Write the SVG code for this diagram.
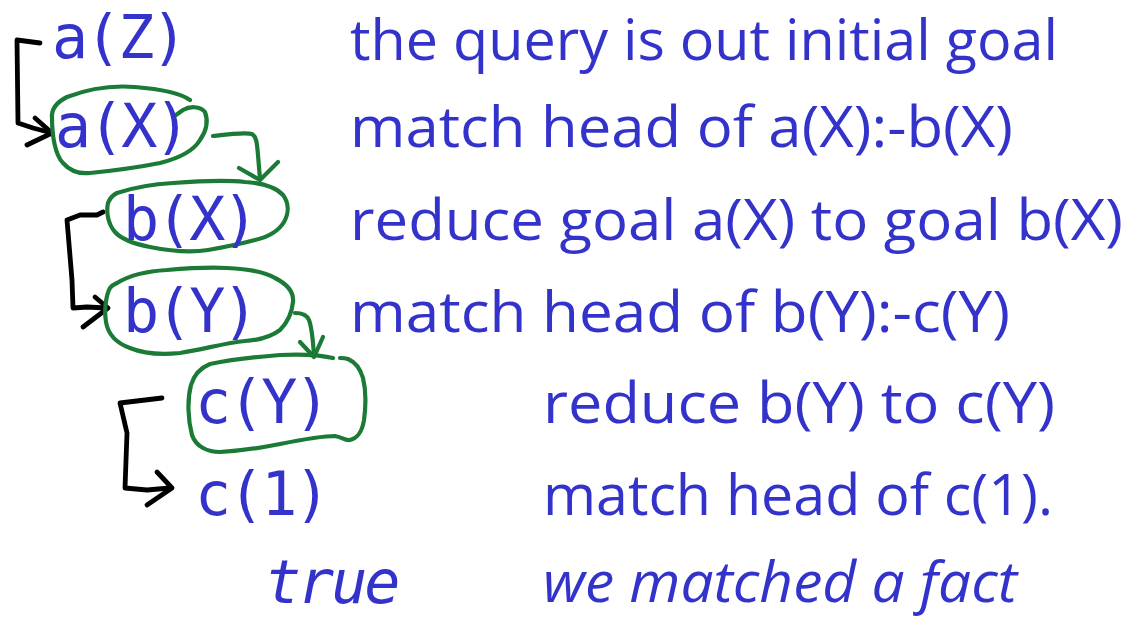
<svg xmlns="http://www.w3.org/2000/svg" width="1137" height="619" viewBox="0 0 1137 619">
<style>
.code{font-family:"DejaVu Sans Mono","Liberation Mono",monospace;font-size:60px;letter-spacing:-3px;fill:#3333cc}
.it{font-style:italic}
.desc{font-family:"Open Sans","Noto Sans","Liberation Sans",sans-serif;font-size:56px;fill:#3333cc}
.g{fill:none;stroke:#1b7a36;stroke-width:4.2;stroke-linecap:round;stroke-linejoin:round}
.k{fill:none;stroke:#000;stroke-width:4.8;stroke-linecap:round;stroke-linejoin:round}
</style>
<rect width="1137" height="619" fill="#fff"/>
<g id="connectors">
<path class="k" d="M40,43 L17,40 L18,123 L33,128 L52,133"/>
<path class="k" d="M35,118 L52,133 L27,145"/>
<path class="k" d="M103,212 L97,215 L80,215 L67,220 L72,280 L73,308 L87,307 L106,308"/>
<path class="k" d="M95,297 L108,308 L83,327"/>
<path class="k" d="M162,398 L120,403 L127,433 L125,488 L147,490 L170,488"/>
<path class="k" d="M157,472 L172,488 L147,505"/>
<path class="g" d="M213,136 C230,134 245,132 252,134 C257,137 257,145 258,155 L260,179"/>
<path class="g" d="M239,168 L260,180 L278,162"/>
<path class="g" d="M295,313 C302,313 307,315 309,320 C312,328 313,340 314,356"/>
<path class="g" d="M300,342 L314,357 L323,337"/>
</g>
<g id="n-aZ"><text class="code" x="52" y="58">a(Z)</text></g>
<g id="n-aX">
<path class="g" d="M190,100 C180,93 160,89 135,87 C110,85 85,90 67,97 C57,102 51,108 52,118 C52,135 55,155 63,163 C70,171 80,174 90,173 C110,171 135,168 160,163 C180,158 194,150 200,140 C207,130 208,120 205,112 C200,106 190,106 183,110 L176,115"/>
<text class="code" x="55" y="147">a(X)</text>
</g>
<g id="n-bX">
<path class="g" d="M117,193 C135,187 155,184 173,183 C200,181 225,180 245,182 C262,183 275,186 283,195 C289,203 289,213 284,222 C278,232 268,237 255,240 C240,244 225,247 208,250 C190,253 170,251 150,247 C135,244 122,240 115,232 C108,224 106,212 108,203 C110,198 113,195 117,193 Z"/>
<text class="code" x="123" y="240">b(X)</text>
</g>
<g id="n-bY">
<path class="g" d="M117,283 C130,275 150,271 167,270 C190,268 210,267 227,268 C250,269 265,272 275,278 C287,284 294,292 293,302 C292,312 288,322 280,330 C272,336 262,340 245,341 C225,343 205,349 180,353 C160,355 142,353 130,348 C116,343 108,334 106,322 C104,310 106,295 110,288 C112,285 115,284 117,283 Z"/>
<text class="code" x="123" y="332">b(Y)</text>
</g>
<g id="n-cY">
<path class="g" d="M333,358 C320,355 300,354 280,355 C255,357 230,360 210,364 C200,368 194,375 191,385 C187,400 188,420 192,435 C196,447 208,452 220,452 C240,451 260,448 280,444 C300,440 320,436 335,436 C342,437 345,441 350,440 C358,438 362,432 364,420 C366,405 366,390 363,378 C360,368 355,362 348,359 C345,358 342,358 340,358"/>
<text class="code" x="195" y="423">c(Y)</text>
</g>
<g id="n-c1"><text class="code" x="195" y="515">c(1)</text></g>
<g id="n-true"><text class="code it" x="265" y="603">true</text></g>
<g id="descriptions">
<text class="desc" x="350" y="60" textLength="708" lengthAdjust="spacingAndGlyphs">the query is out initial goal</text>
<text class="desc" x="350" y="147" textLength="663" lengthAdjust="spacingAndGlyphs">match head of a(X):-b(X)</text>
<text class="desc" x="350" y="240" textLength="773" lengthAdjust="spacingAndGlyphs">reduce goal a(X) to goal b(X)</text>
<text class="desc" x="350" y="332" textLength="660" lengthAdjust="spacingAndGlyphs">match head of b(Y):-c(Y)</text>
<text class="desc" x="543" y="423" textLength="512" lengthAdjust="spacingAndGlyphs">reduce b(Y) to c(Y)</text>
<text class="desc" x="543" y="515" textLength="510" lengthAdjust="spacingAndGlyphs">match head of c(1).</text>
<text class="desc it" x="543" y="602" textLength="474" lengthAdjust="spacingAndGlyphs">we matched a fact</text>
</g>
</svg>
